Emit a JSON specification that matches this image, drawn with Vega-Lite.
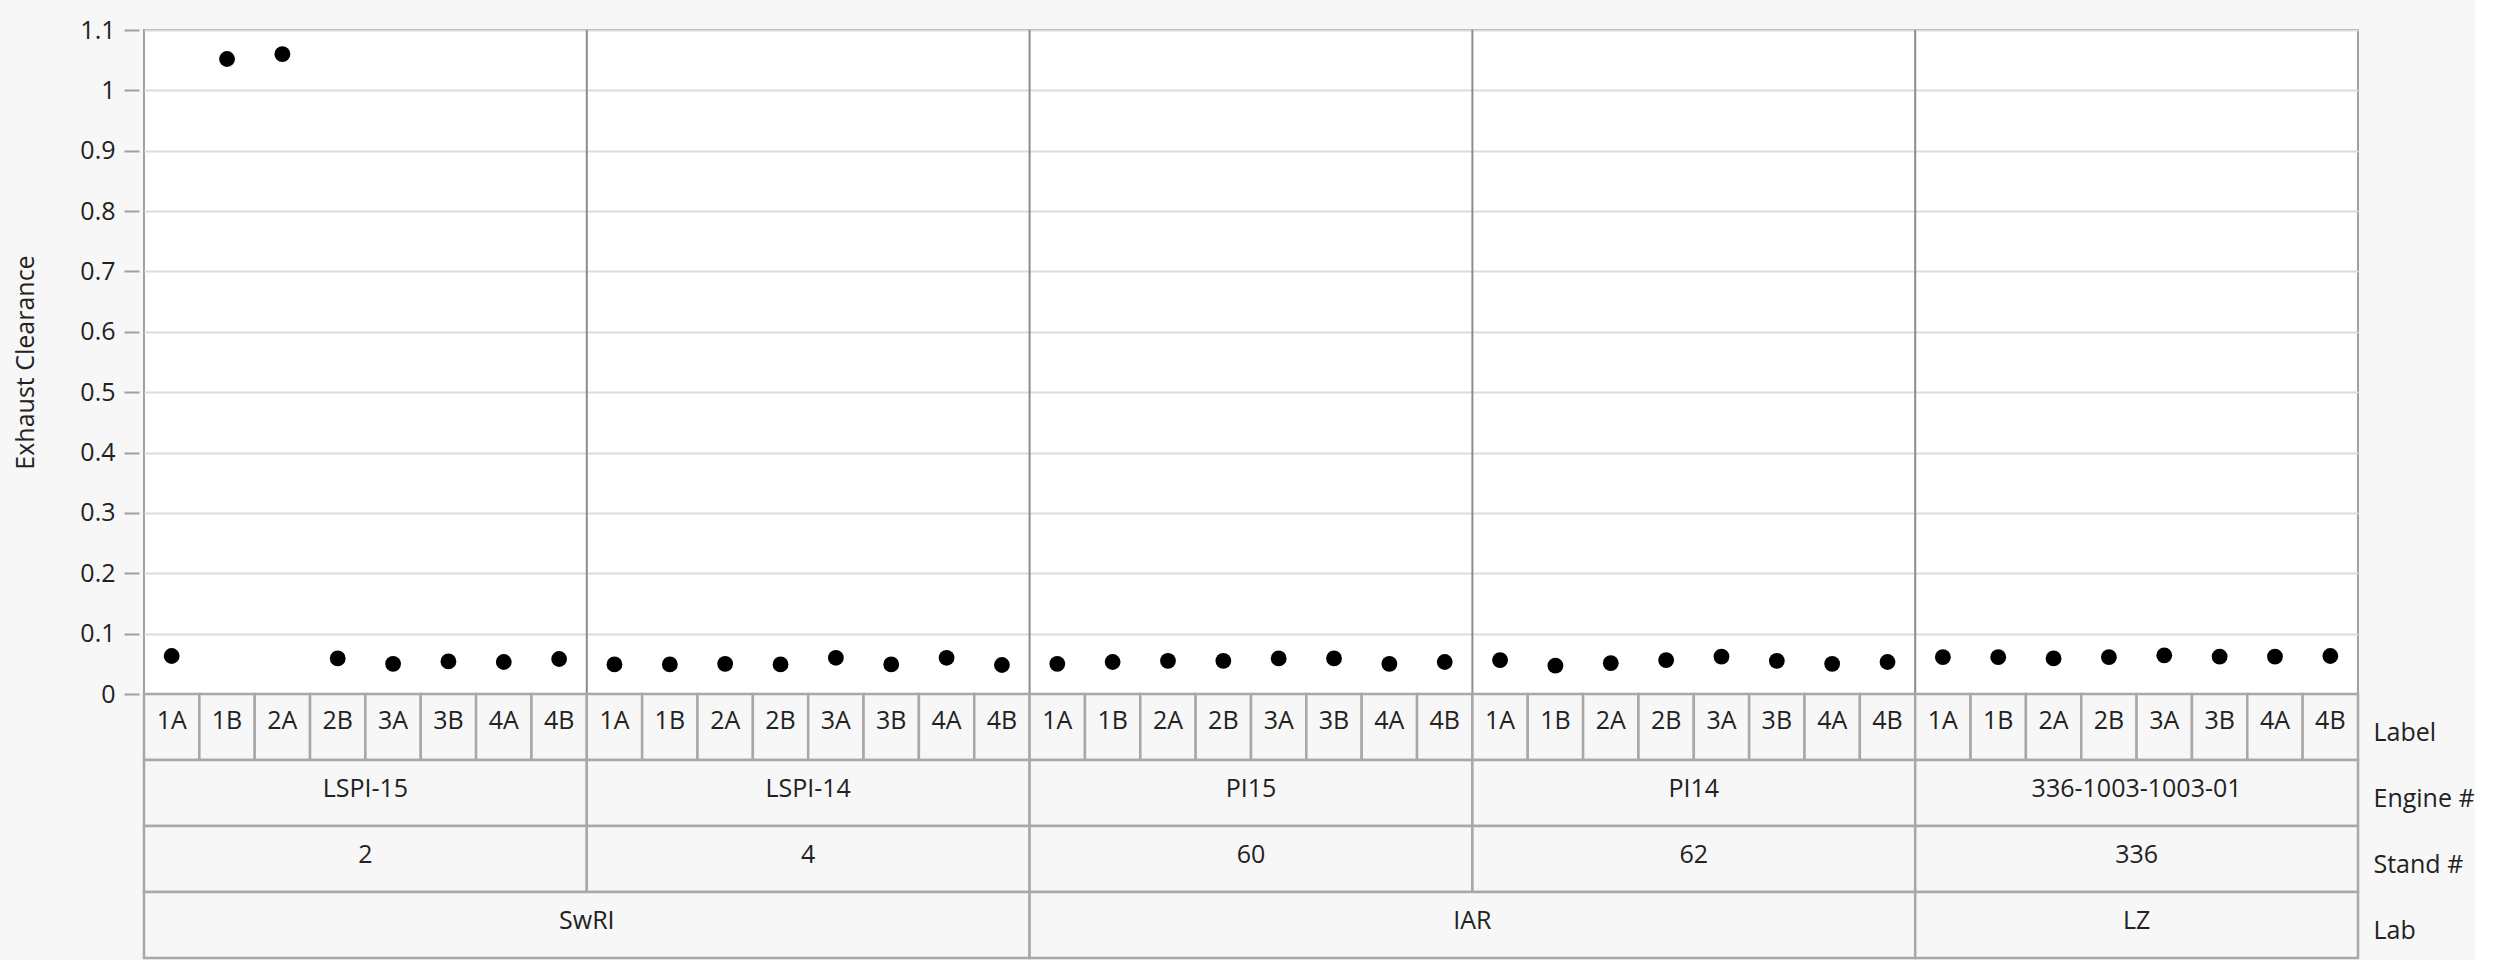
{
  "$schema": "https://vega.github.io/schema/vega-lite/v6.json",
  "background": "#f7f7f7",
  "padding": {"left": 12, "top": 17, "right": 0, "bottom": 0},
  "bounds": "flush",
  "config": {"font": "Open Sans", "concat": {"spacing": 0}, "view": {"stroke": null}},
  "data": {"values": [
    {"Lab": "SwRI", "Stand": "2", "Engine": "LSPI-15", "Label": "1A", "value": 0.063},
    {"Lab": "SwRI", "Stand": "2", "Engine": "LSPI-15", "Label": "1B", "value": 1.052},
    {"Lab": "SwRI", "Stand": "2", "Engine": "LSPI-15", "Label": "2A", "value": 1.060},
    {"Lab": "SwRI", "Stand": "2", "Engine": "LSPI-15", "Label": "2B", "value": 0.059},
    {"Lab": "SwRI", "Stand": "2", "Engine": "LSPI-15", "Label": "3A", "value": 0.050},
    {"Lab": "SwRI", "Stand": "2", "Engine": "LSPI-15", "Label": "3B", "value": 0.054},
    {"Lab": "SwRI", "Stand": "2", "Engine": "LSPI-15", "Label": "4A", "value": 0.053},
    {"Lab": "SwRI", "Stand": "2", "Engine": "LSPI-15", "Label": "4B", "value": 0.058},
    {"Lab": "SwRI", "Stand": "4", "Engine": "LSPI-14", "Label": "1A", "value": 0.049},
    {"Lab": "SwRI", "Stand": "4", "Engine": "LSPI-14", "Label": "1B", "value": 0.049},
    {"Lab": "SwRI", "Stand": "4", "Engine": "LSPI-14", "Label": "2A", "value": 0.050},
    {"Lab": "SwRI", "Stand": "4", "Engine": "LSPI-14", "Label": "2B", "value": 0.049},
    {"Lab": "SwRI", "Stand": "4", "Engine": "LSPI-14", "Label": "3A", "value": 0.060},
    {"Lab": "SwRI", "Stand": "4", "Engine": "LSPI-14", "Label": "3B", "value": 0.049},
    {"Lab": "SwRI", "Stand": "4", "Engine": "LSPI-14", "Label": "4A", "value": 0.060},
    {"Lab": "SwRI", "Stand": "4", "Engine": "LSPI-14", "Label": "4B", "value": 0.048},
    {"Lab": "IAR", "Stand": "60", "Engine": "PI15", "Label": "1A", "value": 0.050},
    {"Lab": "IAR", "Stand": "60", "Engine": "PI15", "Label": "1B", "value": 0.053},
    {"Lab": "IAR", "Stand": "60", "Engine": "PI15", "Label": "2A", "value": 0.055},
    {"Lab": "IAR", "Stand": "60", "Engine": "PI15", "Label": "2B", "value": 0.055},
    {"Lab": "IAR", "Stand": "60", "Engine": "PI15", "Label": "3A", "value": 0.059},
    {"Lab": "IAR", "Stand": "60", "Engine": "PI15", "Label": "3B", "value": 0.059},
    {"Lab": "IAR", "Stand": "60", "Engine": "PI15", "Label": "4A", "value": 0.050},
    {"Lab": "IAR", "Stand": "60", "Engine": "PI15", "Label": "4B", "value": 0.053},
    {"Lab": "IAR", "Stand": "62", "Engine": "PI14", "Label": "1A", "value": 0.056},
    {"Lab": "IAR", "Stand": "62", "Engine": "PI14", "Label": "1B", "value": 0.047},
    {"Lab": "IAR", "Stand": "62", "Engine": "PI14", "Label": "2A", "value": 0.051},
    {"Lab": "IAR", "Stand": "62", "Engine": "PI14", "Label": "2B", "value": 0.056},
    {"Lab": "IAR", "Stand": "62", "Engine": "PI14", "Label": "3A", "value": 0.062},
    {"Lab": "IAR", "Stand": "62", "Engine": "PI14", "Label": "3B", "value": 0.055},
    {"Lab": "IAR", "Stand": "62", "Engine": "PI14", "Label": "4A", "value": 0.050},
    {"Lab": "IAR", "Stand": "62", "Engine": "PI14", "Label": "4B", "value": 0.053},
    {"Lab": "LZ", "Stand": "336", "Engine": "336-1003-1003-01", "Label": "1A", "value": 0.061},
    {"Lab": "LZ", "Stand": "336", "Engine": "336-1003-1003-01", "Label": "1B", "value": 0.061},
    {"Lab": "LZ", "Stand": "336", "Engine": "336-1003-1003-01", "Label": "2A", "value": 0.059},
    {"Lab": "LZ", "Stand": "336", "Engine": "336-1003-1003-01", "Label": "2B", "value": 0.061},
    {"Lab": "LZ", "Stand": "336", "Engine": "336-1003-1003-01", "Label": "3A", "value": 0.064},
    {"Lab": "LZ", "Stand": "336", "Engine": "336-1003-1003-01", "Label": "3B", "value": 0.062},
    {"Lab": "LZ", "Stand": "336", "Engine": "336-1003-1003-01", "Label": "4A", "value": 0.062},
    {"Lab": "LZ", "Stand": "336", "Engine": "336-1003-1003-01", "Label": "4B", "value": 0.063}
  ]},
  "transform": [{"window": [{"op": "row_number", "as": "i"}]}],
  "vconcat": [
    {
      "width": 2214,
      "height": 664,
      "view": {"fill": "white", "stroke": "#a0a0a0", "strokeWidth": 2},
      "layer": [
        {
          "transform": [
            {"aggregate": [{"op": "max", "field": "i", "as": "e"}], "groupby": ["Engine"]},
            {"filter": "datum.e < 40"}
          ],
          "mark": {"type": "rule", "color": "#8c8c8c", "strokeWidth": 2},
          "encoding": {
            "x": {"field": "e", "type": "quantitative", "scale": {"domain": [0, 40], "nice": false, "zero": false}, "axis": null}
          }
        },
        {
          "transform": [{"calculate": "datum.i - 0.5", "as": "xc"}],
          "mark": {"type": "point", "filled": true, "shape": "circle", "size": 250, "color": "black", "opacity": 1},
          "encoding": {
            "x": {"field": "xc", "type": "quantitative", "scale": {"domain": [0, 40], "nice": false, "zero": false}, "axis": null},
            "y": {
              "field": "value", "type": "quantitative",
              "scale": {"domain": [0, 1.1], "nice": false},
              "axis": {
                "title": "Exhaust Clearance",
                "values": [0, 0.1, 0.2, 0.3, 0.4, 0.5, 0.6, 0.7, 0.8, 0.9, 1, 1.1],
                "format": ".1~f",
                "grid": true, "gridColor": "#dcdcdc", "gridWidth": 2,
                "domain": false,
                "tickColor": "#a0a0a0", "tickSize": 15, "tickWidth": 2,
                "offset": 5,
                "labelPadding": 9,
                "labelFontSize": 25, "labelColor": "#222222", "labelFlush": false,
                "titleFontSize": 25, "titleFontWeight": "normal", "titleColor": "#222222",
                "titlePadding": 41
              }
            }
          }
        }
      ]
    },
    {
      "width": 2214,
      "height": 264,
      "layer": [
        {
          "transform": [{"calculate": "'Label'", "as": "row"}, {"calculate": "datum.i - 1", "as": "s"}],
          "mark": {"type": "rect", "fill": "#f7f7f7", "stroke": "#a8a8a8", "strokeWidth": 2.5},
          "encoding": {
            "x": {"field": "s", "type": "quantitative", "scale": {"domain": [0, 40], "nice": false, "zero": false}, "axis": null},
            "x2": {"field": "i"},
            "y": {"field": "row", "type": "nominal", "scale": {"domain": ["Label", "Engine #", "Stand #", "Lab"], "paddingInner": 0, "paddingOuter": 0},
                  "axis": {"orient": "right", "title": null, "ticks": false, "domain": false, "labelPadding": 15, "labelOffset": 6, "labelFontSize": 25, "labelColor": "#222222", "labelAlign": "left"}}
          }
        },
        {
          "transform": [{"calculate": "'Label'", "as": "row"}, {"calculate": "datum.i - 0.5", "as": "mid"}],
          "mark": {"type": "text", "fontSize": 25, "color": "#222222", "dy": -6},
          "encoding": {
            "x": {"field": "mid", "type": "quantitative"},
            "y": {"field": "row", "type": "nominal"},
            "text": {"field": "Label"}
          }
        },
        {
          "transform": [
            {"aggregate": [{"op": "min", "field": "i", "as": "a"}, {"op": "max", "field": "i", "as": "b"}], "groupby": ["Engine"]},
            {"calculate": "'Engine #'", "as": "row"},
            {"calculate": "datum.a - 1", "as": "s"},
            {"calculate": "(datum.a - 1 + datum.b) / 2", "as": "mid"}
          ],
          "layer": [
            {"mark": {"type": "rect", "fill": "#f7f7f7", "stroke": "#a8a8a8", "strokeWidth": 2.5},
             "encoding": {"x": {"field": "s", "type": "quantitative"}, "x2": {"field": "b"}, "y": {"field": "row", "type": "nominal"}}},
            {"mark": {"type": "text", "fontSize": 25, "color": "#222222", "dy": -4},
             "encoding": {"x": {"field": "mid", "type": "quantitative"}, "y": {"field": "row", "type": "nominal"}, "text": {"field": "Engine"}}}
          ]
        },
        {
          "transform": [
            {"aggregate": [{"op": "min", "field": "i", "as": "a"}, {"op": "max", "field": "i", "as": "b"}], "groupby": ["Stand"]},
            {"calculate": "'Stand #'", "as": "row"},
            {"calculate": "datum.a - 1", "as": "s"},
            {"calculate": "(datum.a - 1 + datum.b) / 2", "as": "mid"}
          ],
          "layer": [
            {"mark": {"type": "rect", "fill": "#f7f7f7", "stroke": "#a8a8a8", "strokeWidth": 2.5},
             "encoding": {"x": {"field": "s", "type": "quantitative"}, "x2": {"field": "b"}, "y": {"field": "row", "type": "nominal"}}},
            {"mark": {"type": "text", "fontSize": 25, "color": "#222222", "dy": -4},
             "encoding": {"x": {"field": "mid", "type": "quantitative"}, "y": {"field": "row", "type": "nominal"}, "text": {"field": "Stand"}}}
          ]
        },
        {
          "transform": [
            {"aggregate": [{"op": "min", "field": "i", "as": "a"}, {"op": "max", "field": "i", "as": "b"}], "groupby": ["Lab"]},
            {"calculate": "'Lab'", "as": "row"},
            {"calculate": "datum.a - 1", "as": "s"},
            {"calculate": "(datum.a - 1 + datum.b) / 2", "as": "mid"}
          ],
          "layer": [
            {"mark": {"type": "rect", "fill": "#f7f7f7", "stroke": "#a8a8a8", "strokeWidth": 2.5},
             "encoding": {"x": {"field": "s", "type": "quantitative"}, "x2": {"field": "b"}, "y": {"field": "row", "type": "nominal"}}},
            {"mark": {"type": "text", "fontSize": 25, "color": "#222222", "dy": -4},
             "encoding": {"x": {"field": "mid", "type": "quantitative"}, "y": {"field": "row", "type": "nominal"}, "text": {"field": "Lab"}}}
          ]
        }
      ]
    }
  ]
}
